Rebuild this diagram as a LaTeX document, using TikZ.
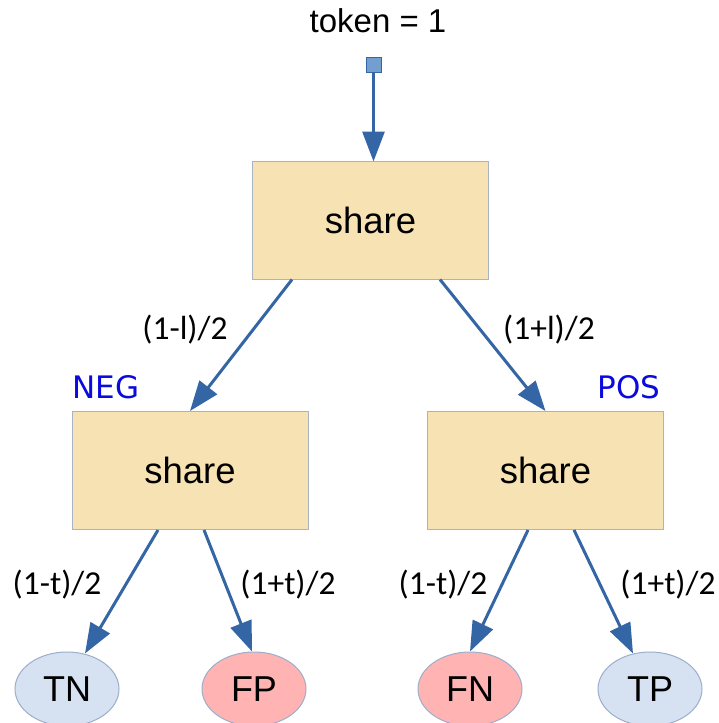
\documentclass[tikz,border=0pt]{standalone}
\usepackage{fontspec}
\setmainfont{Liberation Sans}
\newfontfamily\labfont{Carlito}
\newfontfamily\tagfont{DejaVu Sans}
\usetikzlibrary{arrows.meta,shapes.geometric}
\definecolor{arrowblue}{HTML}{3465A4}
\definecolor{boxfill}{HTML}{F7E2B3}
\definecolor{boxline}{HTML}{A9B4C2}
\definecolor{posfill}{HTML}{D6E2F2}
\definecolor{negfill}{HTML}{FFB3B3}
\definecolor{ellline}{HTML}{9CAECB}
\definecolor{tagblue}{HTML}{0A0ADC}
\definecolor{sqfill}{HTML}{729FCF}
\tikzset{
  sharebox/.style={draw=boxline, line width=1pt, fill=boxfill, minimum width=236pt, minimum height=118pt, inner sep=0pt, font=\fontsize{36.5}{40}\selectfont},
  leaf/.style={ellipse, draw=ellline, line width=1pt, minimum width=104pt, minimum height=74pt, inner sep=0pt, font=\fontsize{36}{40}\selectfont},
  flow/.style={draw=arrowblue, line width=3pt, -{Triangle[length=30pt,width=22pt]}},
  prob/.style={font=\labfont\fontsize{33.5}{37}\selectfont, inner sep=0pt},
  tag/.style={font=\tagfont\fontsize{31}{35}\selectfont, text=tagblue, inner sep=0pt},
}
\begin{document}
\begin{tikzpicture}[x=1pt,y=-1pt]
\useasboundingbox (0,0) rectangle (718,723);
\node[font=\fontsize{33}{37}\selectfont, inner sep=0pt] (title) at (378,21) {token = 1};
\node[draw=arrowblue, fill=sqfill, line width=0.8pt, minimum size=15pt, inner sep=0pt] (src) at (373.5,64.5) {};
\node[sharebox] (top) at (370.5,220) {share};
\node[sharebox] (neg) at (190,470.5) {share};
\node[sharebox] (pos) at (545.5,470.5) {share};
\node[leaf, fill=posfill] (tn) at (67,689) {TN};
\node[leaf, fill=negfill] (fp) at (254,689) {FP};
\node[leaf, fill=negfill] (fn) at (470,689) {FN};
\node[leaf, fill=posfill] (tp) at (650,689) {TP};
\node[tag] (negtag) at (106,387) {NEG};
\node[tag] (postag) at (629,387) {POS};
\node[prob] (p1) at (185,330) {(1-l)/2};
\node[prob] (p2) at (549,330) {(1+l)/2};
\node[prob] (p3) at (57,585) {(1-t)/2};
\node[prob] (p4) at (288,585) {(1+t)/2};
\node[prob] (p5) at (443,585) {(1-t)/2};
\node[prob] (p6) at (668,585) {(1+t)/2};
\draw[flow] (src.south) -- ([yshift=-1pt]src.south |- top.north);
\draw[flow] ([xshift=-78.5pt]top.south) -- (neg.north);
\draw[flow] ([xshift=69.5pt]top.south) -- (pos.north);
\draw[flow] ([xshift=-32pt]neg.south) -- ([xshift=18pt,yshift=-2pt]tn.north);
\draw[flow] ([xshift=14pt]neg.south) -- ([xshift=-2pt]fp.north);
\draw[flow] ([xshift=-17.5pt]pos.south) -- (fn.north);
\draw[flow] ([xshift=28.5pt]pos.south) -- ([xshift=-17pt,yshift=-2pt]tp.north);
\end{tikzpicture}
\end{document}
